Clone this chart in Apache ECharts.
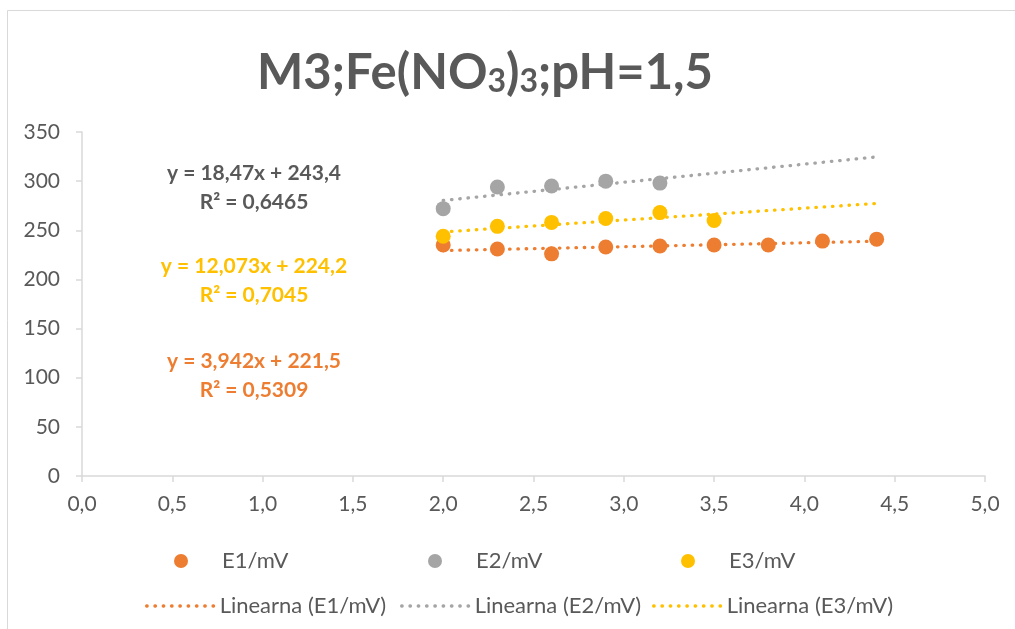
<!DOCTYPE html>
<html><head><meta charset="utf-8">
<script src="https://cdn.jsdelivr.net/npm/echarts@6/dist/echarts.min.js"></script>
<style>html,body{margin:0;padding:0;background:#fff}#c{width:1015px;height:629px}</style>
</head><body><div id="c"></div>
<script>
const xE1 = [2.0, 2.3, 2.6, 2.9, 3.2, 3.5, 3.8, 4.1, 4.4];
const yE1 = [235, 231, 226, 233, 234, 235, 235, 239, 241];
const xE2 = [2.0, 2.3, 2.6, 2.9, 3.2];
const yE2 = [272, 294, 295, 300, 298];
const xE3 = [2.0, 2.3, 2.6, 2.9, 3.2, 3.5];
const yE3 = [244, 254, 258, 262, 268, 260];
const seriesNames = ['E1/mV', 'E2/mV', 'E3/mV'];
const trendNames = ['Linearna (E1/mV)', 'Linearna (E2/mV)', 'Linearna (E3/mV)'];
const trendSlope = [3.942, 18.47, 12.073];
const trendIntercept = [221.5, 243.4, 224.2];
const trendRange = [2.0, 4.4];
const eqTexts = ['y = 3,942x + 221,5', 'y = 18,47x + 243,4', 'y = 12,073x + 224,2'];
const r2Texts = ['R² = 0,5309', 'R² = 0,6465', 'R² = 0,7045'];
const xTicks = ['0,0','0,5','1,0','1,5','2,0','2,5','3,0','3,5','4,0','4,5','5,0'];

const colors = ['#ED7D31', '#A5A5A5', '#FFC000'];
const eqColors = ['#ED7D31', '#595959', '#FFC000'];
const FONT = 'Lato';
const dot = [0.5, 7.8];

const xs = [xE1, xE2, xE3], ys = [yE1, yE2, yE3];
const series = [];
for (let i = 0; i < 3; i++) {
  series.push({
    name: seriesNames[i], type: 'scatter', symbol: 'circle', symbolSize: 15,
    itemStyle: { color: colors[i], opacity: 1 }, z: 3,
    data: xs[i].map((x, k) => [x, ys[i][k]])
  });
}
for (let i = 0; i < 3; i++) {
  series.push({
    name: trendNames[i], type: 'line', symbol: 'none', z: 4,
    itemStyle: { color: colors[i] },
    lineStyle: { color: colors[i], width: 3.3, type: dot, cap: 'round' },
    data: trendRange.map(x => [x, trendIntercept[i] + trendSlope[i] * x])
  });
}

const legendText = { color: '#595959', fontSize: 22, fontFamily: FONT };
const legends = [];
const row1Left = [174, 428, 681];
const row2Left = [145, 400, 652];
for (let i = 0; i < 3; i++) {
  legends.push({
    data: [seriesNames[i]], left: row1Left[i], top: 550, icon: 'circle', padding: 0,
    itemWidth: 14, itemHeight: 14, itemGap: 0,
    itemStyle: { opacity: 1 },
    textStyle: Object.assign({}, legendText, { padding: [0, 0, 0, 29] })
  });
  legends.push({
    data: [trendNames[i]], left: row2Left[i], top: 595, padding: 0,
    itemWidth: 68, itemHeight: 14, itemGap: 0,
    itemStyle: { opacity: 0 },
    lineStyle: { color: colors[i], width: 3.3, type: dot, cap: 'round', opacity: 1 },
    textStyle: legendText
  });
}

const eqY = [361, 173, 266];
const graphics = [{
  type: 'rect', shape: { x: 7.5, y: 10.5, width: 1100, height: 700 },
  style: { fill: 'none', stroke: '#D9D9D9', lineWidth: 1 }, silent: true
}, {
  type: 'text', x: 485, y: 70,
  style: {
    text: '{a|M3;Fe(NO}{s|3}{a|)}{s|3}{a|;pH=1,5}',
    align: 'center', verticalAlign: 'middle',
    rich: {
      a: { fontSize: 49, fontWeight: 'bold', fontFamily: FONT, fill: '#595959', color: '#595959', verticalAlign: 'bottom', lineHeight: 56 },
      s: { fontSize: 32, fontWeight: 'bold', fontFamily: FONT, fill: '#595959', color: '#595959', verticalAlign: 'bottom', lineHeight: 56 }
    }
  }
}];
for (let i = 0; i < 3; i++) {
  graphics.push({ type: 'text', x: 254, y: eqY[i], style: { text: eqTexts[i], align: 'center', verticalAlign: 'middle', fill: eqColors[i], font: 'bold 21px ' + FONT } });
  graphics.push({ type: 'text', x: 254, y: eqY[i] + 29, style: { text: r2Texts[i], align: 'center', verticalAlign: 'middle', fill: eqColors[i], font: 'bold 21px ' + FONT } });
}

const chart = echarts.init(document.getElementById('c'));
chart.setOption({
  animation: false,
  backgroundColor: '#fff',
  grid: { left: 82, right: 30, top: 132, bottom: 153, containLabel: false },
  xAxis: {
    type: 'value', min: 0, max: 5, interval: 0.5,
    axisLine: { show: true, lineStyle: { color: '#D9D9D9', width: 1.5 } },
    axisTick: { show: true, length: 6, lineStyle: { color: '#D9D9D9', width: 1.5 } },
    splitLine: { show: false },
    axisLabel: { color: '#595959', fontSize: 21, fontFamily: FONT, margin: 18,
      formatter: (v) => xTicks[Math.round(v * 2)] }
  },
  yAxis: {
    type: 'value', min: 0, max: 350, interval: 50,
    axisLine: { show: true, lineStyle: { color: '#D9D9D9', width: 1.5 } },
    axisTick: { show: true, length: 6, lineStyle: { color: '#D9D9D9', width: 1.5 } },
    splitLine: { show: false },
    axisLabel: { color: '#595959', fontSize: 21, fontFamily: FONT, margin: 22 }
  },
  legend: legends,
  graphic: graphics,
  series: series
});
</script></body></html>
